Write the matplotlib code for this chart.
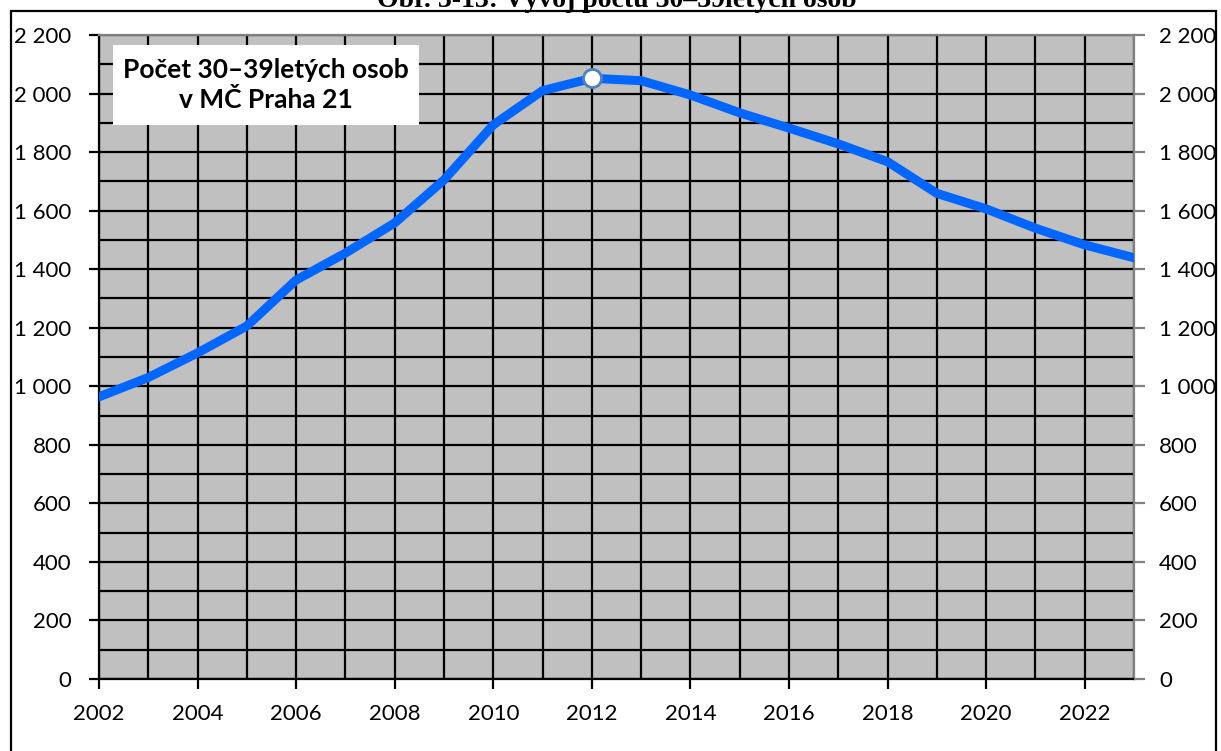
import matplotlib.pyplot as plt
from matplotlib.patches import Rectangle
from matplotlib.ticker import FuncFormatter, MultipleLocator

years = list(range(2002, 2024))
persons = [964, 1030, 1114, 1206, 1363, 1455, 1558, 1705, 1893, 2010, 2052,
           2044, 1995, 1934, 1882, 1828, 1767, 1659, 1606, 1540, 1483, 1439]
peak_year = 2012
peak_value = 2052

title = "Obr. 3-13: Vývoj počtu 30–39letých osob"
label = "Počet 30–39letých osob\nv MČ Praha 21"

plt.rcParams["font.family"] = ["Lato", "DejaVu Sans"]


def space_thousands(v, pos):
    return f"{v:,.0f}".replace(",", " ")


fig = plt.figure(figsize=(12.21, 7.51), dpi=100)
ax = fig.add_axes([99 / 1221, 1 - 679 / 751, 1035 / 1221, 644 / 751])
ax.set_facecolor("#c0c0c0")

ax.plot(years, persons, color="#0066ff", lw=6.5, solid_joinstyle="round", zorder=5)
ax.plot([peak_year], [peak_value], "o", ms=13, mfc="white", mec="#4f81bd", mew=2, zorder=6)

ax.set_xlim(2002, 2023)
ax.set_ylim(0, 2200)
ax.xaxis.set_major_locator(MultipleLocator(2))
ax.xaxis.set_minor_locator(MultipleLocator(1))
ax.yaxis.set_major_locator(MultipleLocator(200))
ax.yaxis.set_minor_locator(MultipleLocator(100))
ax.yaxis.set_major_formatter(FuncFormatter(space_thousands))
ax.set_axisbelow(True)
ax.grid(which="both", color="black", lw=1.6)

ax.tick_params(axis="x", which="major", direction="out", length=7, width=1.6,
               color="black", labelsize=16, pad=11)
ax.tick_params(axis="x", which="minor", length=0)
ax.tick_params(axis="y", which="major", direction="out", length=7, width=1.6,
               color="black", labelsize=16, pad=13)
ax.tick_params(axis="y", which="minor", length=0)

for side in ("left", "bottom"):
    ax.spines[side].set_color("black")
    ax.spines[side].set_linewidth(1.6)
for side in ("top", "right"):
    ax.spines[side].set_color("#808080")
    ax.spines[side].set_linewidth(1.6)

ax2 = ax.twinx()
ax2.set_ylim(ax.get_ylim())
ax2.yaxis.set_major_locator(MultipleLocator(200))
ax2.yaxis.set_major_formatter(FuncFormatter(space_thousands))
ax2.tick_params(axis="y", direction="out", length=8, width=1.6, color="#808080",
                labelsize=16, pad=10)
for s in ax2.spines.values():
    s.set_visible(False)

ax.add_patch(Rectangle((14 / 1035, 554 / 644), 306 / 1035, 80 / 644,
                       transform=ax.transAxes, facecolor="white", edgecolor="none", zorder=3))
ax.text(167 / 1035, 594 / 644, label, transform=ax.transAxes, ha="center", va="center",
        fontsize=19, fontweight="bold", linespacing=1.25, zorder=4)

fig.text(0.505, 1 - 7 / 751, title, ha="center", va="baseline", fontsize=20,
         fontweight="bold", family=["Liberation Serif", "DejaVu Serif"])
fig.add_artist(Rectangle((11 / 1221, -0.02), 1205 / 1221, 1.02 - 11 / 751,
                         transform=fig.transFigure, fill=False, edgecolor="black", lw=1.6))

fig.savefig("out.png", dpi=100)
